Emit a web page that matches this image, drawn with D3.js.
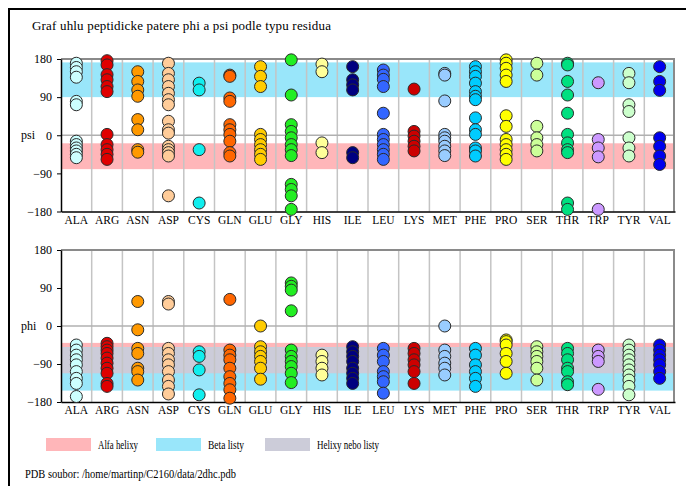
<!DOCTYPE html>
<html>
<head>
<meta charset="utf-8">
<script src="https://cdn.jsdelivr.net/npm/d3@7"></script>
<style>
  body { margin: 0; background: #fff; }
  svg text { font-family: "Liberation Serif", "DejaVu Serif", serif; fill: #000; }
</style>
</head>
<body>
<svg id="chart" width="686" height="486"></svg>
<script>
// residue types and their colours
const residues = ["ALA", "ARG", "ASN", "ASP", "CYS", "GLN", "GLU", "GLY", "HIS", "ILE",
  "LEU", "LYS", "MET", "PHE", "PRO", "SER", "THR", "TRP", "TYR", "VAL"]
const residueColors = ["#ccffff", "#e00000", "#ff9900", "#ffcc99", "#11eeee", "#ff6600",
  "#ffcc00", "#22ee22", "#ffff99", "#000080", "#3366ff", "#cc0000", "#99ccff", "#00ccff",
  "#ffff00", "#ccff99", "#00e080", "#cc99ff", "#ccffcc", "#0000ee"]

// psi angles, one list per residue (same order as residues)
const psiValues = [
  [170, 160, 150, 137, 80, 72, -14, -22, -30, -37, -45, -53],
  [176, 166, 143, 131, 115, 103, 2, -22, -34, -45, -57],
  [150, 127, 107, 92, 37, 13, -34, -40],
  [170, 146, 131, 115, 99, 84, 72, 33, 13, 5, -26, -34, -41, -49, -143],
  [123, 107, -34, -160],
  [142, 139, 88, 80, 25, 13, 2, -14, -41, -49],
  [162, 139, 115, 2, -10, -22, -34, -45, -57],
  [178, 95, 25, 9, -6, -22, -34, -48, -116, -128, -143, -175],
  [168, 150, -18, -41],
  [162, 131, 119, 107, -41, -53],
  [154, 142, 132, 115, 52, 2, -10, -22, -34, -45, -57],
  [109, 9, -2, -14, -26, -37],
  [146, 142, 81, 2, -6, -14, -26, -37, -48],
  [162, 150, 139, 123, 103, 92, 84, 41, 13, 2, -30, -37, -49],
  [178, 170, 158, 142, 127, 46, 21, -10, -22, -34, -45, -57],
  [170, 142, 21, -6, -22, -37],
  [170, 166, 127, 95, 52, 2, -18, -34, -41, -160, -175],
  [124, -10, -30, -51, -175],
  [146, 124, 72, 56, -6, -30, -49],
  [162, 127, 106, -6, -26, -49, -69]
]

// phi angles, one list per residue
const phiValues = [
  [-45, -57, -69, -80, -92, -108, -124, -136, -167],
  [-41, -49, -57, -65, -76, -88, -100, -112, -136, -143],
  [58, -9, -53, -65, -100, -108, -128],
  [58, 52, -53, -65, -80, -92, -108, -128, -143, -161],
  [-61, -72, -104, -163],
  [63, -57, -69, -80, -100, -120, -136, -151, -171],
  [0, -49, -61, -72, -84, -100, -126],
  [102, 94, 85, 36, -57, -72, -84, -96, -112, -134],
  [-69, -84, -100, -116],
  [-49, -61, -72, -84, -100, -112, -124, -136],
  [-53, -69, -84, -108, -120, -132, -159],
  [-53, -65, -80, -92, -108, -136],
  [0, -57, -72, -88, -100, -116],
  [-53, -69, -92, -108, -124, -143],
  [-33, -37, -45, -65, -84, -112],
  [-49, -61, -72, -84, -100, -128],
  [-53, -65, -80, -100, -108, -132, -139],
  [-57, -72, -84, -150],
  [-45, -57, -69, -80, -92, -104, -116, -128, -143, -163],
  [-45, -57, -69, -80, -92, -108, -124]
]

const angleTicks = [180, 90, 0, -90, -180]

// secondary structure ranges [from, to]
const alphaPsi = [-80, -19]
const betaPsi = [90, 172]
const alphaPhi = [-112, -40]
const betaPhi = [-153, -50]

const legendLabels = ["Alfa helixy", "Beta listy", "Helixy nebo listy"]
const legendColors = ["#ffb6b9", "#99e6fa", "#ccccd9"]

const svg = d3.select('#chart')

// outer frame
svg.append('rect')
  .attr('x', 9).attr('y', 9)
  .attr('width', 720).attr('height', 520)
  .attr('fill', 'none')
  .attr('stroke', '#000')
  .attr('stroke-width', 2)

svg.append('text')
  .attr('x', 32).attr('y', 30)
  .attr('font-size', 13)
  .attr('textLength', 299)
  .text('Graf uhlu peptidicke patere phi a psi podle typu residua')

const x = d3.scaleBand()
  .domain(residues)
  .range([61, 675])

/**
 * draw one panel: bands, grid, axes and points
 */
function buildPanel(top, bottom, values, alpha, beta, label) {
  const y = d3.scaleLinear()
    .domain([-180, 180])
    .range([bottom, top])
  const g = svg.append('g')

  const band = function (r, color) {
    g.append('rect')
      .attr('x', x.range()[0])
      .attr('width', x.range()[1] - x.range()[0])
      .attr('y', y(r[1]))
      .attr('height', y(r[0]) - y(r[1]))
      .attr('fill', color)
  }
  band(alpha, legendColors[0])
  band(beta, legendColors[1])
  // overlap of helix and sheet ranges
  const lo = Math.max(alpha[0], beta[0])
  const hi = Math.min(alpha[1], beta[1])
  if (lo < hi) band([lo, hi], legendColors[2])

  // vertical separators
  g.append('g')
    .selectAll('line')
    .data(residues.slice(1))
    .enter()
    .append('line')
    .attr('x1', d => x(d)).attr('x2', d => x(d))
    .attr('y1', top).attr('y2', bottom)
    .attr('stroke', '#c4c4c4')
    .attr('stroke-width', 1.5)

  // zero line
  g.append('line')
    .attr('x1', 61).attr('x2', 675)
    .attr('y1', y(0)).attr('y2', y(0))
    .attr('stroke', '#b0b0b0')
    .attr('stroke-width', 1.5)

  // top and right border
  g.append('path')
    .attr('d', `M61,${top}H674V${bottom}`)
    .attr('fill', 'none')
    .attr('stroke', '#8a8a8a')
    .attr('stroke-width', 2)

  const yAxis = g.append('g')
    .attr('transform', 'translate(61,0)')
    .call(d3.axisLeft(y)
      .tickValues(angleTicks)
      .tickSize(4)
      .tickSizeOuter(0)
      .tickPadding(5))
  yAxis.select('.domain').attr('stroke-width', 1.5)
  yAxis.selectAll('text')
    .attr('font-family', '"Liberation Serif", serif')
    .attr('font-size', 12)

  g.append('text')
    .attr('x', 21)
    .attr('y', y(0))
    .attr('dy', '0.32em')
    .attr('font-size', 12)
    .text(label)

  const xAxis = g.append('g')
    .attr('transform', `translate(0,${bottom})`)
    .call(d3.axisBottom(x)
      .tickSize(0)
      .tickSizeOuter(0)
      .tickPadding(4))
  xAxis.select('.domain').attr('stroke-width', 1.5)
  xAxis.selectAll('text')
    .attr('font-family', '"Liberation Serif", serif')
    .attr('font-size', 11.5)

  // points
  residues.forEach(function (res, i) {
    g.append('g')
      .selectAll('circle')
      .data(values[i])
      .enter()
      .append('circle')
      .attr('cx', x(res) + x.bandwidth() / 2)
      .attr('cy', d => y(d))
      .attr('r', 6)
      .attr('fill', residueColors[i])
      .attr('stroke', '#2a2a2a')
      .attr('stroke-width', 1)
  })
}

buildPanel(59, 211.5, psiValues, alphaPsi, betaPsi, 'psi')
buildPanel(250, 402, phiValues, alphaPhi, betaPhi, 'phi')

// legend
const legendX = [46, 156, 265]
const legendW = [40, 36, 62]
const legend = svg.append('g')
legendLabels.forEach(function (d, i) {
  legend.append('rect')
    .attr('x', legendX[i]).attr('y', 438)
    .attr('width', 45).attr('height', 13)
    .attr('fill', legendColors[i])
  legend.append('text')
    .attr('x', legendX[i] + 52).attr('y', 449)
    .attr('font-size', 11.5)
    .attr('textLength', legendW[i])
    .attr('lengthAdjust', 'spacingAndGlyphs')
    .text(d)
})

svg.append('text')
  .attr('x', 25).attr('y', 478)
  .attr('font-size', 12.5)
  .attr('textLength', 211)
  .attr('lengthAdjust', 'spacingAndGlyphs')
  .text('PDB soubor:  /home/martinp/C2160/data/2dhc.pdb')
</script>
</body>
</html>
